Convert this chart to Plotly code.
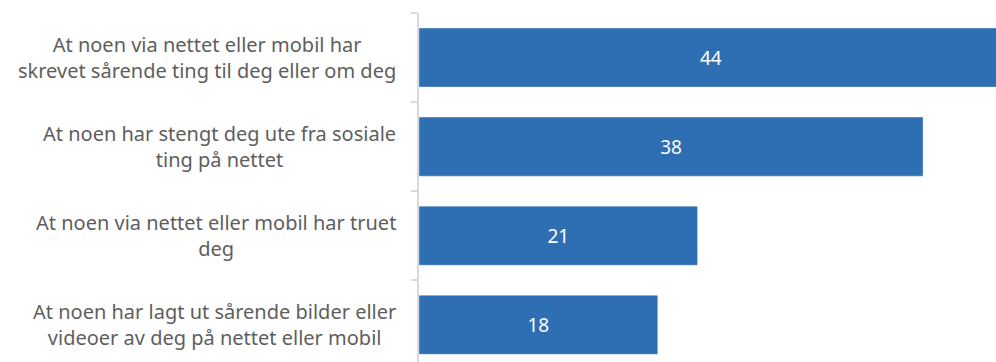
import plotly.graph_objects as go

# Survey items (Norwegian) and the share answering yes, in percent
categories = [
    "At noen via nettet eller mobil har<br>skrevet sårende ting til deg eller om deg",
    "At noen har stengt deg ute fra sosiale<br>ting på nettet",
    "At noen via nettet eller mobil har truet<br>deg",
    "At noen har lagt ut sårende bilder eller<br>videoer av deg på nettet eller mobil",
]
values = [44, 38, 21, 18]

BAR_COLOR = "#2E6FB4"
LABEL_COLOR = "#5E5E5E"
AXIS_COLOR = "#D9D9D9"
FONT = "Noto Sans, Open Sans, Arial, sans-serif"

W, H = 996, 362
M_LEFT, M_TOP = 419, 13
plot_w = W - M_LEFT

fig = go.Figure(
    go.Bar(
        x=values,
        y=list(range(len(categories))),
        orientation="h",
        marker=dict(color=BAR_COLOR, line=dict(color="rgba(255,255,255,0.35)", width=1)),
        text=[str(v) for v in values],
        textposition="inside",
        insidetextanchor="middle",
        textfont=dict(color="white", size=19, family=FONT),
        hoverinfo="skip",
    )
)

# Category labels: right-aligned block, each line centred
for i, label in enumerate(categories):
    fig.add_annotation(
        x=-21 / plot_w,
        xref="paper",
        y=i,
        yref="y",
        text=label,
        showarrow=False,
        xanchor="right",
        yanchor="middle",
        align="center",
        font=dict(size=20, color=LABEL_COLOR, family=FONT),
    )

fig.update_layout(
    width=W,
    height=H,
    margin=dict(l=M_LEFT, r=0, t=M_TOP, b=0, pad=0),
    paper_bgcolor="white",
    plot_bgcolor="white",
    bargap=0.337,
    showlegend=False,
    font=dict(family=FONT),
)
fig.update_xaxes(
    range=[0, 43.5],
    visible=False,
    showgrid=False,
    zeroline=False,
)
fig.update_yaxes(
    type="linear",
    range=[3.418, -0.5],
    showgrid=False,
    zeroline=False,
    showline=True,
    linecolor=AXIS_COLOR,
    linewidth=2,
    ticks="outside",
    ticklen=6,
    tickwidth=2,
    tickcolor=AXIS_COLOR,
    tickmode="array",
    tickvals=[-0.5, 0.5, 1.5, 2.5],
    showticklabels=False,
)

fig.write_html("out.html")
